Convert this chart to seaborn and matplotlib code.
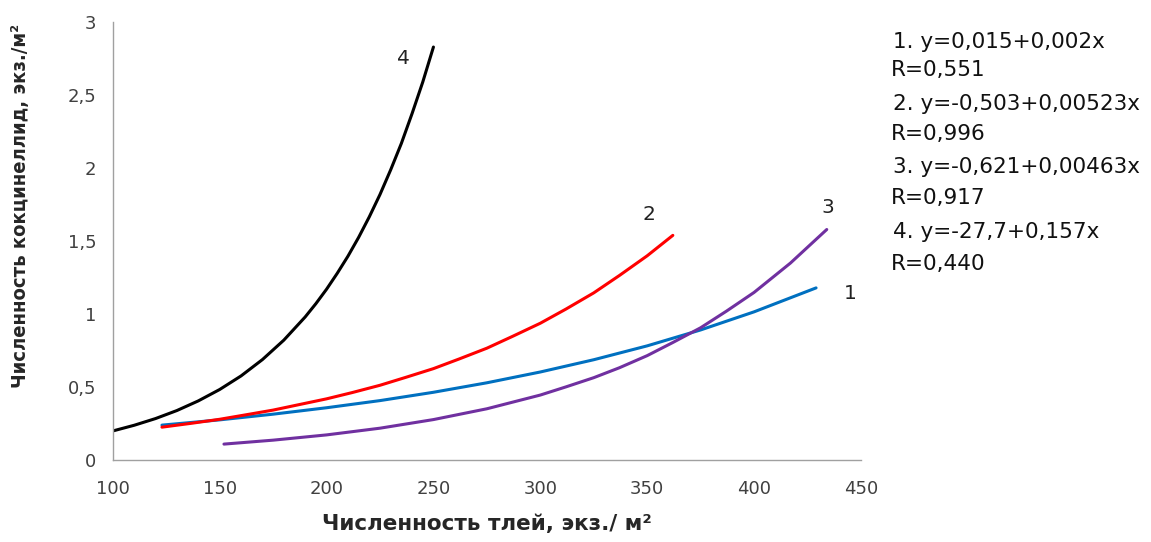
import seaborn as sns
import matplotlib.pyplot as plt
import pandas as pd

sns.set_style("white")
plt.rcParams["font.family"] = ["DejaVu Sans"]

# кривые зависимости численности кокцинеллид от численности тлей
x1 = [123, 150, 175, 200, 225, 250, 275, 300, 325, 350, 375, 400, 429]
y1 = [0.24, 0.276, 0.315, 0.359, 0.408, 0.465, 0.530, 0.604, 0.688, 0.783, 0.892, 1.016, 1.18]

x2 = [123, 137, 150, 162, 175, 187, 200, 212, 225, 237, 250, 262, 275, 287, 300, 312, 325, 337, 350, 362]
y2 = [0.226, 0.253, 0.28, 0.31, 0.343, 0.38, 0.42, 0.463, 0.513, 0.567, 0.627, 0.693, 0.767, 0.848, 0.938,
      1.035, 1.146, 1.265, 1.40, 1.54]

x3 = [152, 175, 200, 225, 250, 275, 300, 312, 325, 337, 350, 362, 375, 387, 400, 417, 434]
y3 = [0.11, 0.137, 0.173, 0.219, 0.278, 0.352, 0.446, 0.502, 0.565, 0.633, 0.716, 0.806, 0.907, 1.02,
      1.149, 1.35, 1.58]

x4 = [100, 110, 120, 130, 140, 150, 160, 170, 180, 190, 195, 200, 205, 210, 215, 220, 225, 230, 235, 240,
      245, 250]
y4 = [0.20, 0.239, 0.285, 0.340, 0.406, 0.484, 0.577, 0.689, 0.822, 0.981, 1.072, 1.171, 1.28, 1.397,
      1.526, 1.667, 1.82, 1.989, 2.17, 2.374, 2.59, 2.83]

labels = ["1", "2", "3", "4"]
colors = ["#0070C0", "#FF0000", "#7030A0", "#000000"]
label_pos = [(445, 1.14), (351, 1.68), (434.5, 1.73), (236, 2.75)]

equations = ["1. y=0,015+0,002x", "R=0,551",
             "2. y=-0,503+0,00523x", "R=0,996",
             "3. y=-0,621+0,00463x", "R=0,917",
             "4. y=-27,7+0,157x", "R=0,440"]

xticks = [100, 150, 200, 250, 300, 350, 400, 450]
yticks = [0, 0.5, 1, 1.5, 2, 2.5, 3]
ytick_labels = ["0", "0,5", "1", "1,5", "2", "2,5", "3"]

fig = plt.figure(figsize=(11.51, 5.42), dpi=100)
ax = fig.add_axes([0.098, 0.151, 0.65, 0.808])

for xs, ys, c in zip([x1, x2, x3, x4], [y1, y2, y3, y4], colors):
    df = pd.DataFrame({"x": xs, "y": ys})
    sns.lineplot(data=df, x="x", y="y", color=c, linewidth=2.2, ax=ax)

for lab, (lx, ly) in zip(labels, label_pos):
    ax.text(lx, ly, lab, fontsize=14.5, color="#222222", ha="center", va="center")

ax.set_xlim(100, 450)
ax.set_ylim(0, 3)
ax.set_xticks(xticks)
ax.set_xticklabels([str(t) for t in xticks])
ax.set_yticks(yticks)
ax.set_yticklabels(ytick_labels)
ax.tick_params(axis="both", colors="#A0A0A0", labelcolor="#404040",
               labelsize=13, direction="out", length=6, width=1)
ax.tick_params(axis="x", pad=8)
ax.tick_params(axis="y", pad=6)

sns.despine(ax=ax, right=True, top=True)
for s in ["left", "bottom"]:
    ax.spines[s].set_color("#A0A0A0")
    ax.spines[s].set_linewidth(1)

ax.set_xlabel("Численность тлей, экз./ м²", fontsize=15.5, fontweight="bold",
              labelpad=12)
ax.set_ylabel("Численность кокцинеллид, экз./м²", fontsize=14.5, fontweight="bold",
              fontstretch="condensed")
ax.yaxis.set_label_coords(-0.111, 0.58)

ty = [0.923, 0.871, 0.808, 0.753, 0.692, 0.635, 0.572, 0.513]
for txt, yy in zip(equations, ty):
    dx = 0.776 if txt[0].isdigit() else 0.774
    fig.text(dx, yy, txt, fontsize=15.5, color="#111111", ha="left", va="center")

fig.savefig("out.png", dpi=100)
